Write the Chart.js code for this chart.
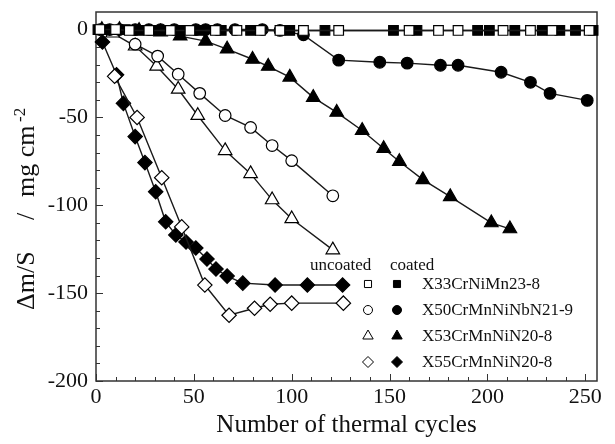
<!DOCTYPE html>
<html>
<head>
<meta charset="utf-8">
<script src="https://cdn.jsdelivr.net/npm/chart.js@4"></script>
<style>
  html, body { margin: 0; padding: 0; background: #fff; }
  #wrap { width: 615px; height: 444px; }
</style>
</head>
<body>
<div id="wrap"><canvas id="chart" width="615" height="444"></canvas></div>
<script>
// ========== Data ==========

// X33CrNiMn23-8
const x33UncoatedCycles = [2, 10, 17, 27, 38, 48, 61, 72, 84, 94, 106, 124, 160, 175, 185, 208, 222, 233, 252];
const x33UncoatedMass = [0, 0, -0.5, -0.5, -0.5, -0.5, -0.5, -0.5, -0.5, -0.5, -0.5, -0.5, -0.5, -0.5, -0.5, -0.5, -0.5, -0.5, -0.5];
const x33CoatedCycles = [1, 6, 15, 22, 30, 43, 53, 64, 79, 99, 117, 152, 164, 195, 201, 214, 228, 237, 245, 254];
const x33CoatedMass = [0, 0, 0, -0.5, -0.5, -0.5, -0.5, -0.5, -0.5, -0.5, -0.5, -0.5, -0.5, -0.5, -0.5, -0.5, -0.5, -0.5, -0.5, -0.5];

// X50CrMnNiNbN21-9
const x50UncoatedCycles = [20, 31.5, 42, 53, 66, 79, 90, 100, 121];
const x50UncoatedMass = [-8.3, -15.1, -25.4, -36.3, -48.9, -55.7, -66, -74.6, -94.6];
const x50CoatedCycles = [2, 7, 12, 20, 27, 33, 40, 51, 56, 62, 71, 85, 94, 106, 124, 145, 159, 176, 185, 207, 222, 232, 251];
const x50CoatedMass = [0, 0, 0, 0, 0, 0, 0, 0, 0, 0, 0, 0, -0.5, -3, -17.4, -18.6, -19.1, -20.3, -20.3, -24.3, -30, -36.3, -40.3];

// X53CrMnNiN20-8
const x53UncoatedCycles = [8.5, 20, 31, 42, 52, 66, 79, 90, 100, 121];
const x53UncoatedMass = [-2, -9.4, -20.9, -34, -48.9, -68.9, -82, -96.9, -107.7, -125.4];
const x53CoatedCycles = [3, 12, 22, 33, 43, 56, 67, 80, 88, 99, 111, 123, 136, 147, 155, 167, 181, 202, 211.5];
const x53CoatedMass = [0, 0, -0.5, -1.4, -3.7, -6.6, -11.1, -16.9, -20.9, -27.1, -38.6, -47.1, -57.4, -67.7, -75.1, -85.4, -95.1, -110, -113.4];

// X55CrMnNiN20-8
const x55UncoatedCycles = [9.5, 21, 33.6, 43.8, 55.6, 68, 81, 89, 100, 126.4];
const x55UncoatedMass = [-26.6, -50, -84.3, -112.3, -145.4, -162.6, -158.6, -156.3, -155.7, -155.7];
const x55CoatedCycles = [3.3, 10.5, 14, 20, 25, 30.5, 35.6, 40.8, 46, 51, 56.7, 61.3, 67, 75, 91.5, 108, 126];
const x55CoatedMass = [-7.1, -25.7, -42, -60.9, -75.7, -92.3, -109.4, -116.9, -120.9, -124.3, -130.6, -136.3, -140.3, -144.3, -145.4, -145.4, -145.4];

const xTicks = [0, 50, 100, 150, 200, 250];
const yTicks = [-200, -150, -100, -50, 0];
const alloyNames = ['X33CrNiMn23-8', 'X50CrMnNiNbN21-9', 'X53CrMnNiN20-8', 'X55CrMnNiN20-8'];

// ========== Helpers ==========

const SERIF = "'Liberation Serif', 'Times New Roman', serif";
const INK = '#111';

function toPoints(xs, ys) {
  return xs.map((x, i) => ({ x: x, y: ys[i] }));
}

function series(xs, ys, style, radius, filled) {
  return {
    data: toPoints(xs, ys),
    showLine: true,
    borderColor: '#1a1a1a',
    borderWidth: 1.4,
    pointStyle: style,
    pointRadius: radius,
    pointHoverRadius: radius,
    pointBackgroundColor: filled ? '#000' : '#fff',
    pointBorderColor: '#000',
    pointBorderWidth: 1.2,
    clip: false,
  };
}

// ========== Plugins ==========

// frame with inward major / minor ticks
const framePlugin = {
  id: 'frame',
  beforeDatasetsDraw(chart) {
    const { ctx, chartArea: a, scales } = chart;
    ctx.save();
    ctx.strokeStyle = '#333';
    ctx.lineWidth = 1;
    ctx.beginPath();
    for (let v = 0; v <= 250; v += 10) {
      const px = Math.round(scales.x.getPixelForValue(v)) + 0.5;
      const len = v % 50 === 0 ? 7 : 4;
      ctx.moveTo(px, a.bottom);
      ctx.lineTo(px, a.bottom - len);
    }
    for (let v = -200; v <= 0; v += 10) {
      const py = Math.round(scales.y.getPixelForValue(v)) + 0.5;
      const len = v % 50 === 0 ? 7 : 4;
      ctx.moveTo(a.left, py);
      ctx.lineTo(a.left + len, py);
    }
    ctx.stroke();
    ctx.lineWidth = 1.5;
    ctx.strokeRect(a.left, a.top, a.right - a.left, a.bottom - a.top);
    ctx.restore();
  },
};

// y axis title with superscript
const yTitlePlugin = {
  id: 'yTitle',
  afterDraw(chart) {
    const { ctx } = chart;
    ctx.save();
    ctx.translate(34, 310);
    ctx.rotate(-Math.PI / 2);
    ctx.fillStyle = INK;
    ctx.textBaseline = 'alphabetic';
    ctx.textAlign = 'left';
    ctx.font = '26px ' + SERIF;
    ctx.fillText('\u0394m/S', 0, 0);
    ctx.fillText('/', 90, 0);
    ctx.fillText('mg cm', 113, 0);
    ctx.font = '17px ' + SERIF;
    ctx.fillText('-2', 188, -9);
    ctx.restore();
  },
};

// legend: uncoated / coated marker columns
const legendPlugin = {
  id: 'markerLegend',
  afterDraw(chart) {
    const { ctx } = chart;
    const styles = ['rect', 'circle', 'triangle', 'rectRot'];
    const sizes = [5, 4.5, 6, 5.5];
    const rows = [284, 310, 336, 362];
    ctx.save();
    ctx.fillStyle = INK;
    ctx.font = '17px ' + SERIF;
    ctx.textBaseline = 'middle';
    ctx.textAlign = 'left';
    ctx.fillText('uncoated', 310, 266);
    ctx.fillText('coated', 390, 266);
    rows.forEach((y, i) => {
      ctx.lineWidth = 1;
      ctx.strokeStyle = '#000';
      ctx.fillStyle = '#fff';
      Chart.helpers.drawPoint(ctx, { pointStyle: styles[i], radius: sizes[i], borderWidth: 1 }, 368, y);
      ctx.fillStyle = '#000';
      Chart.helpers.drawPoint(ctx, { pointStyle: styles[i], radius: sizes[i], borderWidth: 1 }, 397, y);
      ctx.fillStyle = INK;
      ctx.fillText(alloyNames[i], 422, y + 1);
    });
    ctx.restore();
  },
};

// ========== Chart ==========

const ctx = document.getElementById('chart').getContext('2d');

new Chart(ctx, {
  type: 'scatter',
  data: {
    datasets: [
      series(x33UncoatedCycles, x33UncoatedMass, 'rect', 6.8, false),
      series(x33CoatedCycles, x33CoatedMass, 'rect', 6.8, true),
      series(x50UncoatedCycles, x50UncoatedMass, 'circle', 5.8, false),
      series(x50CoatedCycles, x50CoatedMass, 'circle', 5.8, true),
      series(x53UncoatedCycles, x53UncoatedMass, 'triangle', 7.8, false),
      series(x53CoatedCycles, x53CoatedMass, 'triangle', 7.8, true),
      series(x55UncoatedCycles, x55UncoatedMass, 'rectRot', 7.2, false),
      series(x55CoatedCycles, x55CoatedMass, 'rectRot', 7.2, true),
    ],
  },
  options: {
    responsive: false,
    animation: false,
    events: [],
    layout: { padding: { left: 0, right: 18, top: 12, bottom: 0 } },
    plugins: {
      legend: { display: false },
      tooltip: { enabled: false },
    },
    scales: {
      x: {
        type: 'linear',
        min: 0,
        max: 256,
        grid: { display: false, drawTicks: false },
        border: { display: false },
        afterBuildTicks: (scale) => { scale.ticks = xTicks.map(v => ({ value: v })); },
        afterFit: (scale) => {
          scale.height = 63;
          scale.paddingLeft = 0;
          scale.paddingRight = 0;
        },
        ticks: {
          color: INK,
          padding: 3,
          maxRotation: 0,
          font: { family: SERIF, size: 22 },
        },
        title: {
          display: true,
          text: 'Number of thermal cycles',
          color: INK,
          padding: { top: 1 },
          font: { family: SERIF, size: 25 },
        },
      },
      y: {
        type: 'linear',
        min: -200,
        max: 10,
        grid: { display: false, drawTicks: false },
        border: { display: false },
        afterBuildTicks: (scale) => { scale.ticks = yTicks.map(v => ({ value: v })); },
        afterFit: (scale) => {
          scale.width = 96;
          scale.paddingTop = 0;
          scale.paddingBottom = 0;
        },
        ticks: {
          color: INK,
          padding: 8,
          font: { family: SERIF, size: 22 },
        },
      },
    },
  },
  plugins: [framePlugin, yTitlePlugin, legendPlugin],
});
</script>
</body>
</html>
